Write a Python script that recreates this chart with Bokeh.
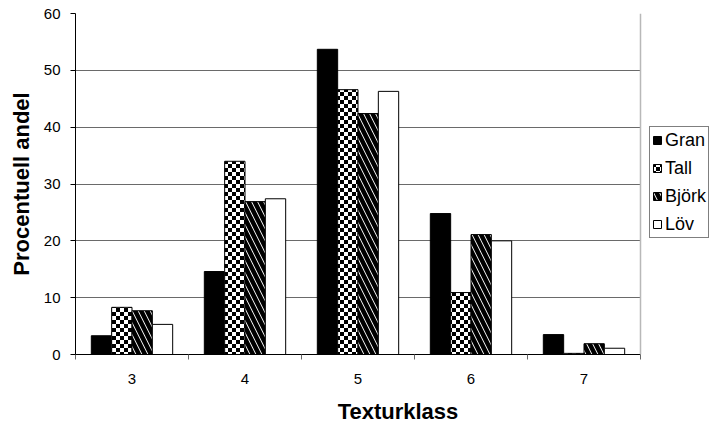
import zlib, struct, base64
from bokeh.plotting import figure
from bokeh.models import (ColumnDataSource, FixedTicker, Legend, LegendItem,
                          ImageURLTexture, Span)
from bokeh.core.properties import value
from bokeh.transform import dodge
from bokeh.embed import file_html
from bokeh.resources import INLINE

# ---- data ----
klass = [3, 4, 5, 6, 7]
gran = [3.3, 14.6, 53.7, 24.8, 3.5]
tall = [8.3, 34.0, 46.6, 10.9, 0.2]
bjork = [7.7, 26.9, 42.4, 21.1, 1.9]
lov = [5.3, 27.4, 46.3, 20.0, 1.1]
y_ticks = [0, 10, 20, 30, 40, 50, 60]

src = ColumnDataSource(dict(x=klass, gran=gran, tall=tall, bjork=bjork, lov=lov))

# checkerboard tile: 8x8 px PNG with 4 px squares
def _chunk(t, d):
    return struct.pack(">I", len(d)) + t + d + struct.pack(">I", zlib.crc32(t + d) & 0xffffffff)
_raw = b"".join(b"\x00" + bytes(0 if ((xx // 4) + (yy // 4)) % 2 == 0 else 255 for xx in range(8))
                for yy in range(8))
_png = (b"\x89PNG\r\n\x1a\n" + _chunk(b"IHDR", struct.pack(">IIBBBBB", 8, 8, 8, 0, 0, 0, 0))
        + _chunk(b"IDAT", zlib.compress(_raw)) + _chunk(b"IEND", b""))
checker = ImageURLTexture(url="data:image/png;base64," + base64.b64encode(_png).decode())

FONT = "Liberation Sans"

x_lo = klass[0] - 0.5
x_hi = klass[-1] + 0.5
# frame reaches the right edge so the legend (drawn inside) is not clipped;
# the chart area itself ends at x_hi (640 px of 720)
x_end = x_lo + (x_hi - x_lo) * 645.0 / 565.0

p = figure(width=720, height=430, output_backend="svg", toolbar_location=None,
           x_range=(x_lo, x_end), y_range=(0, 60),
           min_border_left=75, min_border_right=0, min_border_top=13, min_border_bottom=76)
p.background_fill_color = "white"
p.border_fill_color = "white"
p.outline_line_color = None

W = 0.18
r_gran = p.vbar(x=dodge("x", -0.27, range=p.x_range), top="gran", width=W, source=src,
                fill_color="black", line_color="black", line_width=1)
r_tall = p.vbar(x=dodge("x", -0.09, range=p.x_range), top="tall", width=W, source=src,
                fill_color="white", line_color="black", line_width=1,
                hatch_pattern=value("chk"), hatch_extra={"chk": checker})
r_bjork = p.vbar(x=dodge("x", 0.09, range=p.x_range), top="bjork", width=W, source=src,
                 fill_color="white", line_color="black", line_width=1,
                 hatch_pattern="\\", hatch_color="black", hatch_scale=12, hatch_weight=4.5)
r_lov = p.vbar(x=dodge("x", 0.27, range=p.x_range), top="lov", width=W, source=src,
               fill_color="white", line_color="black", line_width=1)

# grid lines limited to the chart area
p.xgrid.grid_line_color = None
if "cross_bounds" in p.ygrid.properties():
    p.ygrid.grid_line_color = "#6a6a6a"
    p.ygrid.ticker = FixedTicker(ticks=y_ticks)
    p.ygrid.cross_bounds = (x_lo, x_hi)
    p.ygrid.level = "underlay"
else:
    p.ygrid.grid_line_color = None
    p.segment(x0=[x_lo] * len(y_ticks), x1=[x_hi] * len(y_ticks), y0=y_ticks, y1=y_ticks,
              line_color="#6a6a6a", line_width=1, level="underlay")

p.add_layout(Span(location=x_hi, dimension="height", line_color="#b8b8b8", line_width=1.5))

p.yaxis.ticker = FixedTicker(ticks=y_ticks)
p.yaxis.axis_line_color = "black"
p.yaxis.major_tick_line_color = "black"
p.yaxis.major_tick_out = 5
p.yaxis.major_tick_in = 0
p.yaxis.minor_tick_line_color = None
p.yaxis.major_label_text_font = FONT
p.yaxis.major_label_text_font_size = "15px"
p.yaxis.major_label_text_color = "black"
p.yaxis.major_label_standoff = 10
p.yaxis.axis_label = "Procentuell andel"
p.yaxis.axis_label_text_font = FONT
p.yaxis.axis_label_text_font_size = "22px"
p.yaxis.axis_label_text_font_style = "bold"
p.yaxis.axis_label_text_color = "black"
p.yaxis.axis_label_standoff = 7

p.xaxis.bounds = (x_lo, x_hi)
p.xaxis.ticker = FixedTicker(ticks=klass, minor_ticks=[k - 0.5 for k in klass] + [x_hi])
p.xaxis.axis_line_color = "black"
p.xaxis.major_tick_line_color = None
p.xaxis.minor_tick_line_color = "#666666"
p.xaxis.minor_tick_out = 5
p.xaxis.minor_tick_in = 0
p.xaxis.major_label_text_font = FONT
p.xaxis.major_label_text_font_size = "15px"
p.xaxis.major_label_text_color = "black"
p.xaxis.major_label_standoff = 13
p.xaxis.axis_label = "Texturklass"
p.xaxis.axis_label_text_font = FONT
p.xaxis.axis_label_text_font_size = "22px"
p.xaxis.axis_label_text_font_style = "bold"
p.xaxis.axis_label_text_color = "black"
p.xaxis.axis_label_standoff = 12

legend = Legend(items=[LegendItem(label="Gran", renderers=[r_gran]),
                       LegendItem(label="Tall", renderers=[r_tall]),
                       LegendItem(label="Björk", renderers=[r_bjork]),
                       LegendItem(label="Löv", renderers=[r_lov])],
                location=(574, 116))
legend.border_line_color = "black"
legend.border_line_width = 1
legend.background_fill_color = "white"
legend.label_text_font = FONT
legend.label_text_font_size = "18px"
legend.label_text_color = "black"
legend.glyph_width = 10
legend.glyph_height = 10
legend.label_height = 22
legend.label_standoff = 3
legend.spacing = 6
legend.padding = 2
legend.margin = 0
p.add_layout(legend)

open("out.html", "w").write(file_html(p, INLINE))
